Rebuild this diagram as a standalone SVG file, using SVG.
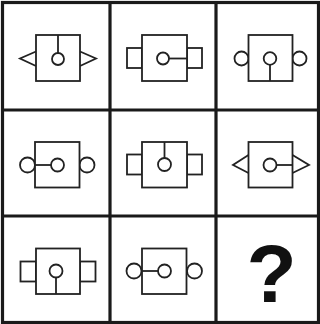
<svg xmlns="http://www.w3.org/2000/svg" width="320" height="324" viewBox="0 0 320 324">
<style>
.grid{fill:none;stroke:#1a1a1a;stroke-width:3.2}
.s{fill:#fff;stroke:#222;stroke-width:1.8}
.l{fill:none;stroke:#222;stroke-width:1.8}
</style>
<rect x="0" y="0" width="320" height="324" fill="#fff"/>
<g id="grid">
<rect class="grid" x="2.5" y="2.5" width="316" height="320"/>
<line class="grid" x1="110" y1="2" x2="110" y2="323"/>
<line class="grid" x1="216" y1="2" x2="216" y2="323"/>
<line class="grid" x1="2" y1="110" x2="319" y2="110"/>
<line class="grid" x1="2" y1="216" x2="319" y2="216"/>
</g>
<g id="cell1">
<polyline class="l" points="36,51.5 20,58.5 36,66"/>
<polyline class="l" points="80,51.5 96,58.5 80,66"/>
<rect class="s" x="36" y="35" width="44" height="46"/>
<line class="l" x1="58" y1="35" x2="58" y2="53"/>
<circle class="s" cx="58" cy="59" r="6"/>
</g>
<g id="cell2">
<rect class="s" x="127" y="48" width="15" height="20"/>
<rect class="s" x="187" y="48" width="15" height="20"/>
<rect class="s" x="142" y="35" width="45" height="46"/>
<line class="l" x1="169" y1="58.5" x2="187" y2="58.5"/>
<circle class="s" cx="163" cy="58.5" r="6"/>
</g>
<g id="cell3">
<circle class="s" cx="241.5" cy="58.5" r="7"/>
<circle class="s" cx="299.5" cy="58.5" r="7"/>
<rect class="s" x="248.5" y="35" width="44" height="46"/>
<line class="l" x1="270" y1="65" x2="270" y2="81"/>
<circle class="s" cx="270" cy="58.5" r="6.3"/>
</g>
<g id="cell4">
<circle class="s" cx="27.5" cy="165" r="7.5"/>
<circle class="s" cx="87" cy="165" r="7.5"/>
<rect class="s" x="35" y="142" width="44.5" height="45.5"/>
<line class="l" x1="35" y1="165" x2="51.5" y2="165"/>
<circle class="s" cx="57.5" cy="165" r="6.5"/>
</g>
<g id="cell5">
<rect class="s" x="127" y="154.5" width="15" height="20"/>
<rect class="s" x="187" y="154.5" width="15" height="20"/>
<rect class="s" x="142" y="142" width="45" height="45.5"/>
<line class="l" x1="164.5" y1="142" x2="164.5" y2="158"/>
<circle class="s" cx="164.5" cy="164.5" r="6.5"/>
</g>
<g id="cell6">
<polyline class="l" points="248.5,155 233,165 248.5,173"/>
<polyline class="l" points="292.5,155 309,165 292.5,173"/>
<rect class="s" x="248.5" y="142" width="44" height="45.5"/>
<line class="l" x1="276.5" y1="165" x2="292.5" y2="165"/>
<circle class="s" cx="270" cy="165" r="6.5"/>
</g>
<g id="cell7">
<rect class="s" x="20.5" y="261.5" width="15.5" height="20"/>
<rect class="s" x="80" y="261.5" width="15.5" height="20"/>
<rect class="s" x="36" y="248.5" width="44" height="45.5"/>
<line class="l" x1="56" y1="277.5" x2="56" y2="294"/>
<circle class="s" cx="56" cy="271" r="6.5"/>
</g>
<g id="cell8">
<circle class="s" cx="134" cy="271" r="7.5"/>
<circle class="s" cx="194.5" cy="271" r="7.5"/>
<rect class="s" x="142" y="248.5" width="44.5" height="45.5"/>
<line class="l" x1="142" y1="271" x2="158" y2="271"/>
<circle class="s" cx="164.5" cy="271" r="6.5"/>
</g>
<g id="cell9">
<text x="271.5" y="301.5" text-anchor="middle" font-family="'Liberation Sans', Arial, sans-serif" font-weight="bold" font-size="82" fill="#111">?</text>
</g>
</svg>
